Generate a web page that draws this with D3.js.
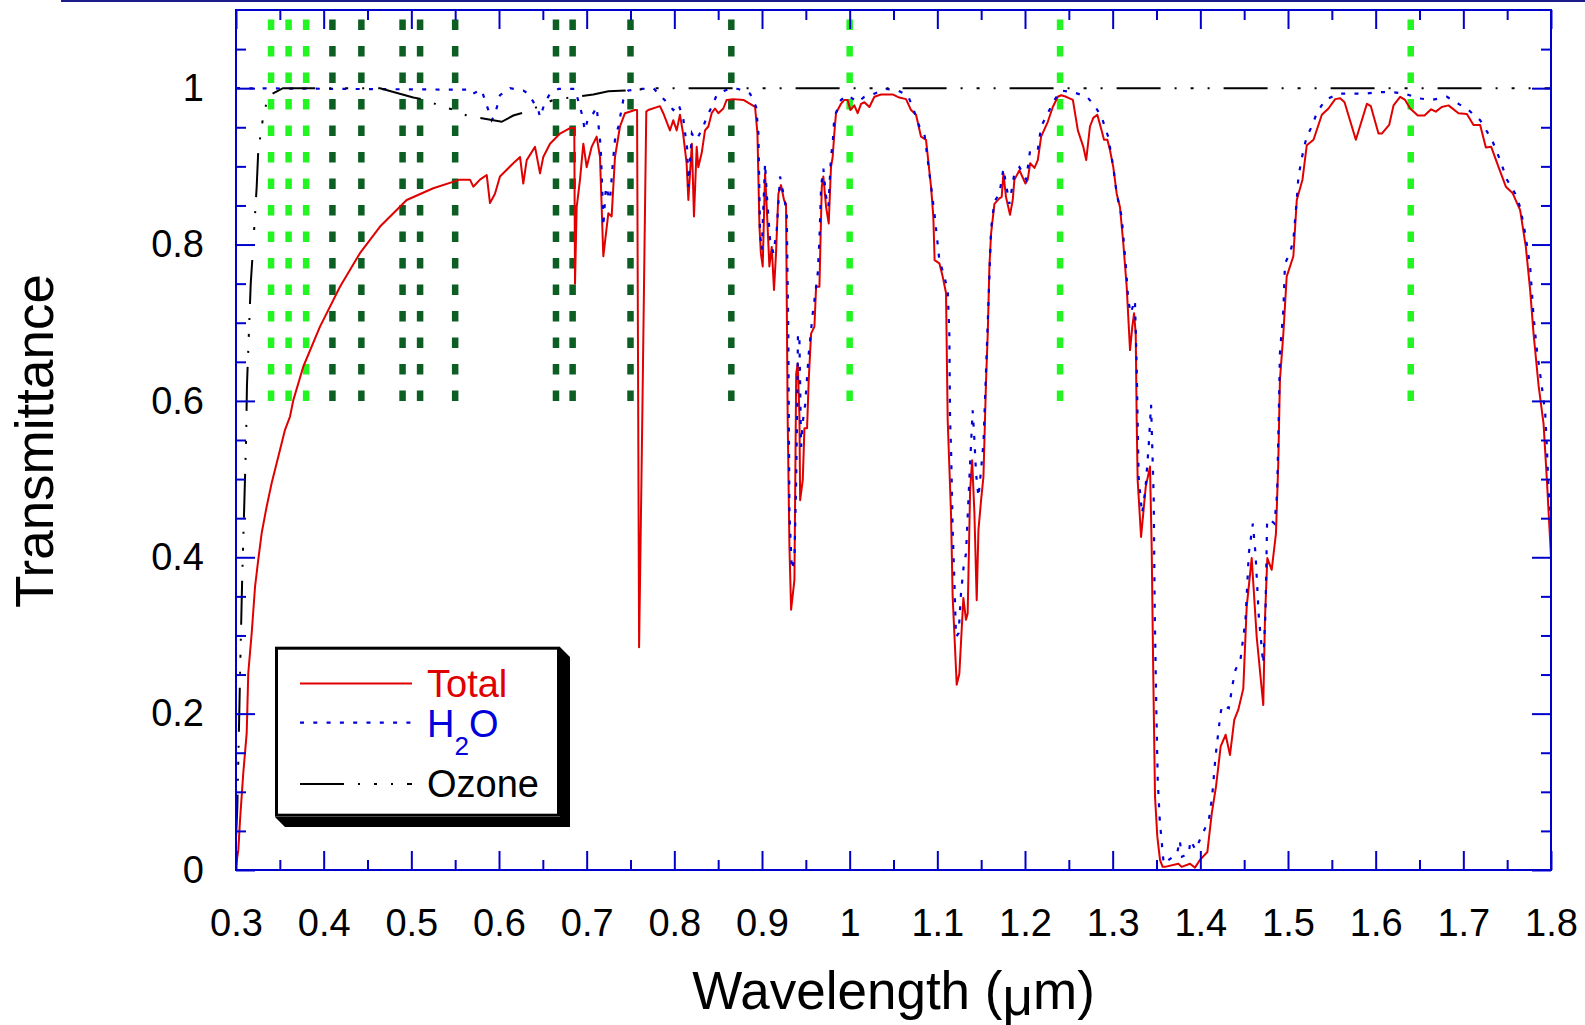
<!DOCTYPE html>
<html>
<head>
<meta charset="utf-8">
<script src="https://cdn.jsdelivr.net/npm/d3@7"></script>
<style>
  body { margin: 0; background: #ffffff; }
  svg { display: block; }
  text { font-family: "Liberation Sans", Arial, Helvetica, sans-serif; }
</style>
</head>
<body>
<svg id="chart" width="1585" height="1025"></svg>
<script>
// Atmospheric transmittance, wavelength (µm) vs transmittance

// Total transmittance
const totalCurve = [
  [0.300,0.005],[0.3027,0.026],[0.3046,0.064],[0.3083,0.124],[0.3122,0.175],[0.314,0.252],[0.3179,0.303],
  [0.3217,0.362],[0.3254,0.397],[0.3293,0.431],[0.335,0.465],[0.3407,0.495],[0.3483,0.529],[0.3559,0.563],
  [0.3616,0.58],[0.3654,0.601],[0.3768,0.644],[0.3958,0.695],[0.4186,0.746],[0.4414,0.789],[0.4643,0.823],
  [0.4947,0.857],[0.525,0.872],[0.5555,0.883],[0.5669,0.883],[0.5707,0.874],[0.5783,0.883],[0.586,0.889],
  [0.5897,0.853],[0.5954,0.865],[0.6011,0.887],[0.6163,0.904],[0.624,0.912],[0.6277,0.878],[0.6316,0.908],
  [0.6411,0.925],[0.6468,0.891],[0.6505,0.912],[0.6582,0.929],[0.6696,0.942],[0.681,0.949],[0.6859,0.949],
  [0.6867,0.75],[0.6886,0.848],[0.6924,0.883],[0.6962,0.929],[0.700,0.899],[0.7057,0.925],[0.7114,0.938],
  [0.7152,0.912],[0.719,0.785],[0.7247,0.84],[0.7285,0.836],[0.7323,0.912],[0.738,0.951],[0.7437,0.968],
  [0.7551,0.972],[0.7575,0.972],[0.7598,0.285],[0.7625,0.5],[0.7637,0.6],[0.768,0.97],[0.7703,0.972],
  [0.7836,0.977],[0.7874,0.968],[0.795,0.946],[0.7988,0.959],[0.8027,0.946],[0.8064,0.966],[0.810,0.942],
  [0.814,0.904],[0.816,0.857],[0.820,0.929],[0.8224,0.836],[0.8255,0.925],[0.8273,0.899],[0.8312,0.917],
  [0.835,0.946],[0.8388,0.951],[0.8426,0.968],[0.8464,0.974],[0.8502,0.968],[0.8559,0.974],[0.8597,0.985],
  [0.8674,0.986],[0.8788,0.985],[0.8864,0.980],[0.8921,0.976],[0.8948,0.942],[0.8971,0.823],[0.8987,0.789],
  [0.9008,0.772],[0.9035,0.891],[0.9054,0.848],[0.9084,0.772],[0.9111,0.797],[0.9137,0.742],[0.916,0.789],
  [0.9187,0.865],[0.9217,0.876],[0.9251,0.857],[0.9274,0.852],[0.9293,0.576],[0.9313,0.413],[0.9332,0.333],
  [0.937,0.371],[0.939,0.635],[0.9408,0.648],[0.9427,0.58],[0.9435,0.473],[0.9465,0.499],[0.9484,0.565],
  [0.9514,0.565],[0.9533,0.627],[0.956,0.686],[0.9598,0.695],[0.9617,0.746],[0.9655,0.746],[0.9682,0.874],
  [0.970,0.887],[0.9731,0.848],[0.9761,0.827],[0.9787,0.899],[0.9806,0.912],[0.9825,0.942],[0.9844,0.968],
  [0.9901,0.980],[0.9939,0.985],[0.9977,0.985],[1.0008,0.972],[1.0053,0.978],[1.0091,0.968],[1.013,0.980],
  [1.0168,0.982],[1.0225,0.976],[1.0282,0.989],[1.0358,0.992],[1.049,0.992],[1.0566,0.988],[1.0643,0.986],
  [1.070,0.972],[1.0757,0.966],[1.0814,0.938],[1.0871,0.934],[1.0928,0.874],[1.0954,0.836],[1.0969,0.780],
  [1.1023,0.776],[1.1061,0.759],[1.1099,0.738],[1.1118,0.576],[1.1156,0.456],[1.1175,0.349],[1.1221,0.237],
  [1.1251,0.251],[1.1297,0.348],[1.1327,0.320],[1.1346,0.328],[1.1374,0.486],[1.1397,0.524],[1.1423,0.456],
  [1.1449,0.345],[1.1469,0.435],[1.1499,0.473],[1.1526,0.503],[1.1556,0.627],[1.1575,0.686],[1.1594,0.772],
  [1.1613,0.814],[1.1651,0.852],[1.1708,0.859],[1.1734,0.861],[1.1754,0.891],[1.1783,0.861],[1.1829,0.838],
  [1.186,0.857],[1.1879,0.883],[1.1937,0.895],[1.2005,0.878],[1.2031,0.883],[1.2059,0.904],[1.2108,0.898],
  [1.2146,0.908],[1.2184,0.938],[1.226,0.957],[1.2317,0.976],[1.2374,0.989],[1.2413,0.991],[1.247,0.989],
  [1.2546,0.985],[1.2603,0.946],[1.2665,0.925],[1.2698,0.908],[1.2741,0.951],[1.2779,0.962],[1.2825,0.966],
  [1.2874,0.946],[1.2901,0.934],[1.294,0.934],[1.2969,0.921],[1.3007,0.899],[1.3046,0.865],[1.3083,0.848],
  [1.3121,0.802],[1.316,0.746],[1.3198,0.665],[1.3224,0.695],[1.3244,0.712],[1.3263,0.686],[1.3274,0.576],
  [1.3285,0.499],[1.3324,0.426],[1.3377,0.490],[1.3426,0.516],[1.3445,0.413],[1.3464,0.243],[1.3483,0.094],
  [1.3509,0.043],[1.354,0.013],[1.357,0.004],[1.3597,0.004],[1.3749,0.008],[1.3787,0.004],[1.3882,0.008],
  [1.3939,0.003],[1.3996,0.013],[1.408,0.023],[1.413,0.072],[1.4179,0.107],[1.4232,0.158],[1.4289,0.173],
  [1.4338,0.147],[1.4387,0.192],[1.4433,0.205],[1.449,0.232],[1.4529,0.337],[1.4586,0.399],[1.4643,0.298],
  [1.4718,0.211],[1.4737,0.320],[1.4764,0.399],[1.4814,0.384],[1.4863,0.431],[1.4889,0.520],[1.4908,0.627],
  [1.4947,0.686],[1.4985,0.759],[1.5061,0.785],[1.510,0.857],[1.5165,0.883],[1.5214,0.927],[1.5291,0.934],
  [1.5386,0.966],[1.5462,0.974],[1.5538,0.986],[1.5595,0.987],[1.5645,0.982],[1.5774,0.934],[1.590,0.980],
  [1.5945,0.977],[1.6032,0.942],[1.607,0.942],[1.6154,0.953],[1.6204,0.978],[1.6279,0.989],[1.6336,0.985],
  [1.6393,0.974],[1.6481,0.965],[1.6557,0.965],[1.6633,0.973],[1.6686,0.970],[1.6754,0.976],[1.6831,0.978],
  [1.6945,0.968],[1.704,0.967],[1.7116,0.953],[1.7192,0.953],[1.7257,0.924],[1.7318,0.925],[1.7402,0.899],
  [1.7485,0.874],[1.7561,0.866],[1.7648,0.844],[1.7713,0.797],[1.7762,0.742],[1.7801,0.686],[1.7858,0.620],
  [1.7915,0.571],[1.7953,0.499],[1.800,0.400]
];

// Water vapour transmittance
const h2oCurve = [
  [0.300,1.0],[0.5669,0.998],[0.570,0.993],[0.580,0.998],[0.5878,0.972],[0.5916,0.959],[0.5954,0.966],
  [0.6011,0.991],[0.6125,1.0],[0.6277,0.997],[0.6335,0.993],[0.6448,0.972],[0.6468,0.963],[0.6525,0.982],
  [0.6582,0.993],[0.6677,0.999],[0.6867,0.999],[0.6943,0.968],[0.698,0.946],[0.7019,0.963],[0.7076,0.968],
  [0.7114,0.976],[0.716,0.925],[0.7182,0.857],[0.719,0.823],[0.722,0.874],[0.7266,0.857],[0.7304,0.912],
  [0.7323,0.934],[0.7361,0.951],[0.7418,0.985],[0.7475,0.997],[0.7627,0.999],[0.776,1.0],[0.7836,0.991],
  [0.7931,0.980],[0.7988,0.972],[0.8045,0.980],[0.8083,0.968],[0.8103,0.960],[0.8148,0.921],[0.816,0.874],
  [0.820,0.942],[0.8236,0.934],[0.8273,0.938],[0.8331,0.951],[0.8369,0.963],[0.8426,0.976],[0.8483,0.991],
  [0.8578,0.997],[0.8635,1.0],[0.873,0.999],[0.8864,0.993],[0.8933,0.976],[0.8959,0.942],[0.8978,0.814],
  [0.8997,0.793],[0.9035,0.904],[0.9054,0.865],[0.9092,0.806],[0.913,0.789],[0.9168,0.819],[0.9206,0.887],
  [0.9251,0.861],[0.9282,0.840],[0.930,0.686],[0.9313,0.456],[0.934,0.384],[0.937,0.397],[0.939,0.499],
  [0.9405,0.623],[0.941,0.686],[0.9427,0.678],[0.9446,0.541],[0.9465,0.573],[0.9492,0.595],[0.9533,0.660],
  [0.9579,0.712],[0.9636,0.763],[0.9655,0.806],[0.9674,0.874],[0.970,0.897],[0.9731,0.861],[0.9757,0.848],
  [0.9787,0.912],[0.9806,0.929],[0.9825,0.963],[0.9901,0.985],[0.9977,0.991],[1.0091,0.982],[1.0168,0.989],
  [1.0282,0.993],[1.0415,0.999],[1.0548,0.997],[1.0662,0.991],[1.0719,0.976],[1.0795,0.951],[1.0852,0.942],
  [1.091,0.891],[1.0967,0.840],[1.1023,0.780],[1.108,0.759],[1.1118,0.742],[1.1137,0.686],[1.1145,0.576],
  [1.1156,0.541],[1.1175,0.435],[1.1194,0.371],[1.1213,0.298],[1.1243,0.303],[1.127,0.354],[1.130,0.388],
  [1.1327,0.405],[1.1365,0.499],[1.1403,0.588],[1.1423,0.550],[1.1442,0.507],[1.1469,0.477],[1.1499,0.512],
  [1.1526,0.546],[1.1549,0.618],[1.1575,0.700],[1.1613,0.820],[1.1651,0.855],[1.1708,0.865],[1.1754,0.897],
  [1.1822,0.852],[1.1879,0.891],[1.1937,0.899],[1.2013,0.883],[1.2059,0.921],[1.2146,0.921],[1.2184,0.951],
  [1.226,0.968],[1.2336,0.985],[1.2413,0.997],[1.2546,0.995],[1.2706,0.989],[1.2793,0.978],[1.2874,0.963],
  [1.2949,0.938],[1.3007,0.899],[1.3046,0.865],[1.3102,0.836],[1.3151,0.772],[1.3178,0.729],[1.3205,0.712],
  [1.3254,0.729],[1.3274,0.644],[1.3296,0.503],[1.3335,0.456],[1.3373,0.486],[1.341,0.541],[1.3438,0.595],
  [1.3468,0.477],[1.348,0.328],[1.3499,0.200],[1.3514,0.115],[1.3537,0.064],[1.3582,0.008],[1.3735,0.021],
  [1.3765,0.038],[1.3791,0.017],[1.3868,0.021],[1.3887,0.038],[1.3944,0.026],[1.402,0.045],[1.4097,0.064],
  [1.4135,0.094],[1.4173,0.145],[1.423,0.200],[1.4249,0.211],[1.4325,0.207],[1.4371,0.239],[1.4401,0.256],
  [1.4458,0.269],[1.4515,0.320],[1.4553,0.405],[1.4599,0.443],[1.4629,0.405],[1.4667,0.324],[1.4717,0.264],
  [1.4743,0.328],[1.4762,0.448],[1.480,0.448],[1.4846,0.443],[1.4876,0.482],[1.4895,0.584],[1.4908,0.661],
  [1.4947,0.716],[1.4966,0.776],[1.5023,0.789],[1.5061,0.806],[1.510,0.857],[1.5119,0.887],[1.5176,0.921],
  [1.5214,0.938],[1.5271,0.951],[1.5328,0.968],[1.5423,0.985],[1.5576,0.993],[1.5728,0.993],[1.588,0.993],
  [1.6032,0.995],[1.6184,0.995],[1.6336,0.993],[1.6489,0.987],[1.6641,0.985],[1.6812,0.989],[1.6945,0.980],
  [1.7059,0.972],[1.7192,0.959],[1.7326,0.934],[1.742,0.908],[1.7497,0.883],[1.7592,0.865],[1.7648,0.848],
  [1.7706,0.814],[1.7762,0.772],[1.7801,0.708],[1.7839,0.665],[1.7896,0.618],[1.7934,0.584],[1.7953,0.541],
  [1.7972,0.486],[1.800,0.450]
];

// Ozone transmittance
const ozoneCurve = [
  [0.300,0.04],[0.3015,0.08],[0.303,0.16],[0.305,0.27],[0.307,0.37],[0.309,0.45],[0.3115,0.55],[0.3125,0.62],
  [0.3168,0.75],[0.3197,0.80],[0.3236,0.874],[0.3254,0.92],[0.3311,0.964],[0.3368,0.99],[0.3536,1.0],
  [0.4643,1.0],[0.5022,0.988],[0.5175,0.985],[0.5327,0.977],[0.5498,0.972],[0.5631,0.965],[0.6031,0.957],
  [0.6163,0.965],[0.6316,0.970],[0.6619,0.985],[0.7076,0.992],[0.7247,0.996],[0.7457,0.997],[0.776,1.0],
  [1.800,1.0]
];

// Sensor channel positions (µm)
const brightBands = [0.34, 0.36, 0.38, 1.0, 1.24, 1.64];
const darkBands = [0.41, 0.443, 0.49, 0.51, 0.55, 0.665, 0.684, 0.75, 0.865];

// Axis ticks
const xMajorTicks = [0.3,0.4,0.5,0.6,0.7,0.8,0.9,1.0,1.1,1.2,1.3,1.4,1.5,1.6,1.7,1.8];
const xMinorTicks = [0.35,0.45,0.55,0.65,0.75,0.85,0.95,1.05,1.15,1.25,1.35,1.45,1.55,1.65,1.75];
const yMajorTicks = [0,0.2,0.4,0.6,0.8,1.0];
const yMinorTicks = [0.05,0.1,0.15,0.25,0.3,0.35,0.45,0.5,0.55,0.65,0.7,0.75,0.85,0.9,0.95,1.05];

const seriesNames = ["Total", "H2O", "Ozone"];

const svg = d3.select("#chart");
const X0 = 236, X1 = 1551, Y0 = 870, Y1 = 10;
const x = d3.scaleLinear().domain([0.3, 1.8]).range([X0, X1]);
const y = d3.scaleLinear().domain([0, 1.1]).range([Y0, Y1]);

const frameBlue = "#0000cc";
const red = "#e00000";
const blue = "#0000dd";

// thin rule along the very top of the page
svg.append("line").attr("x1", 61).attr("x2", 1585).attr("y1", 1).attr("y2", 1)
  .attr("stroke", "#1c1c8a").attr("stroke-width", 2);

// channel markers
const bandG = svg.append("g");
function drawBands(list, color) {
  bandG.selectAll(null).data(list).enter().append("path")
    .attr("d", d => `M${x(d)},${y(0.6)}V${y(1.1)}`)
    .attr("stroke", color).attr("stroke-width", 6.5)
    .attr("stroke-dasharray", "10.5,16").attr("fill", "none");
}
drawBands(brightBands, "#22f522");
drawBands(darkBands, "#0d5e22");

// curves
const line = d3.line().x(d => x(d[0])).y(d => y(d[1]));
svg.append("path").datum(totalCurve).attr("d", line)
  .attr("fill", "none").attr("stroke", red).attr("stroke-width", 2).attr("stroke-linejoin", "round");
svg.append("path").datum(h2oCurve).attr("d", line)
  .attr("fill", "none").attr("stroke", blue).attr("stroke-width", 2.2)
  .attr("stroke-dasharray", "4,9.3");
svg.append("path").datum(ozoneCurve).attr("d", line)
  .attr("fill", "none").attr("stroke", "#000").attr("stroke-width", 2)
  .attr("stroke-dasharray", "44,14,2,14,3,14,2,14");

// axes: ticks on all four sides, pointing inward
function styleAxis(g) {
  g.select(".domain").remove();
  g.selectAll(".tick line").attr("stroke", frameBlue).attr("stroke-width", 2);
  g.selectAll(".tick text").attr("fill", "#000").attr("font-size", 38)
    .attr("font-family", "'Liberation Sans', Arial, sans-serif");
}
const fmt = d => (d === 1 ? "1" : d3.format("")(+d.toFixed(2)));

svg.append("g").attr("transform", `translate(0,${Y0})`)
  .call(d3.axisBottom(x).tickValues(xMajorTicks).tickSize(-19).tickPadding(39).tickFormat(fmt))
  .call(styleAxis);
svg.append("g").attr("transform", `translate(0,${Y0})`)
  .call(d3.axisBottom(x).tickValues(xMinorTicks).tickSize(-10).tickFormat(""))
  .call(styleAxis);
svg.append("g").attr("transform", `translate(0,${Y1})`)
  .call(d3.axisTop(x).tickValues(xMajorTicks).tickSize(-19).tickFormat(""))
  .call(styleAxis);
svg.append("g").attr("transform", `translate(0,${Y1})`)
  .call(d3.axisTop(x).tickValues(xMinorTicks).tickSize(-10).tickFormat(""))
  .call(styleAxis);
svg.append("g").attr("transform", `translate(${X0},0)`)
  .call(d3.axisLeft(y).tickValues(yMajorTicks).tickSize(-19).tickPadding(32).tickFormat(fmt))
  .call(styleAxis);
svg.append("g").attr("transform", `translate(${X0},0)`)
  .call(d3.axisLeft(y).tickValues(yMinorTicks).tickSize(-10).tickFormat(""))
  .call(styleAxis);
svg.append("g").attr("transform", `translate(${X1},0)`)
  .call(d3.axisRight(y).tickValues(yMajorTicks).tickSize(-19).tickFormat(""))
  .call(styleAxis);
svg.append("g").attr("transform", `translate(${X1},0)`)
  .call(d3.axisRight(y).tickValues(yMinorTicks).tickSize(-10).tickFormat(""))
  .call(styleAxis);

// plot frame
svg.append("rect").attr("x", X0).attr("y", Y1).attr("width", X1 - X0).attr("height", Y0 - Y1)
  .attr("fill", "none").attr("stroke", frameBlue).attr("stroke-width", 2);

// axis titles
svg.append("text").attr("x", (X0 + X1) / 2).attr("y", 1009).attr("text-anchor", "middle")
  .attr("font-size", 53).attr("fill", "#000")
  .call(t => {
    t.append("tspan").text("Wavelength (");
    t.append("tspan").attr("dy", 6).text("\u03bc");
    t.append("tspan").attr("dy", -6).text("m)");
  });
svg.append("text").attr("transform", "translate(52.5,441) rotate(-90)").attr("text-anchor", "middle")
  .attr("font-size", 53).attr("fill", "#000").text("Transmittance");

// legend
const lg = svg.append("g");
lg.append("polygon")
  .attr("points", "560,647 570,657 570,827 285,827 275,817 560,817")
  .attr("fill", "#000");
lg.append("rect").attr("x", 276.5).attr("y", 648.2).attr("width", 282).attr("height", 167)
  .attr("fill", "#fff").attr("stroke", "#000").attr("stroke-width", 3);

const legendRows = [
  { name: seriesNames[0], y: 683.5, ty: 696.7, color: red, dash: null, text: red },
  { name: seriesNames[1], y: 722.7, ty: 736.7, color: blue, dash: "4,9.3", text: blue },
  { name: seriesNames[2], y: 784, ty: 796.7, color: "#000", dash: "44,14,2,14,3,14,2,14", text: "#000" }
];
legendRows.forEach(r => {
  lg.append("line").attr("x1", 300).attr("x2", 412).attr("y1", r.y).attr("y2", r.y)
    .attr("stroke", r.color).attr("stroke-width", 2.2)
    .attr("stroke-dasharray", r.dash);
  const t = lg.append("text").attr("x", 427).attr("y", r.ty).attr("font-size", 38).attr("fill", r.text);
  if (r.name === "H2O") {
    t.append("tspan").text("H");
    t.append("tspan").attr("font-size", 26).attr("dy", 18).text("2");
    t.append("tspan").attr("dy", -18).text("O");
  } else {
    t.text(r.name);
  }
});
</script>
</body>
</html>
